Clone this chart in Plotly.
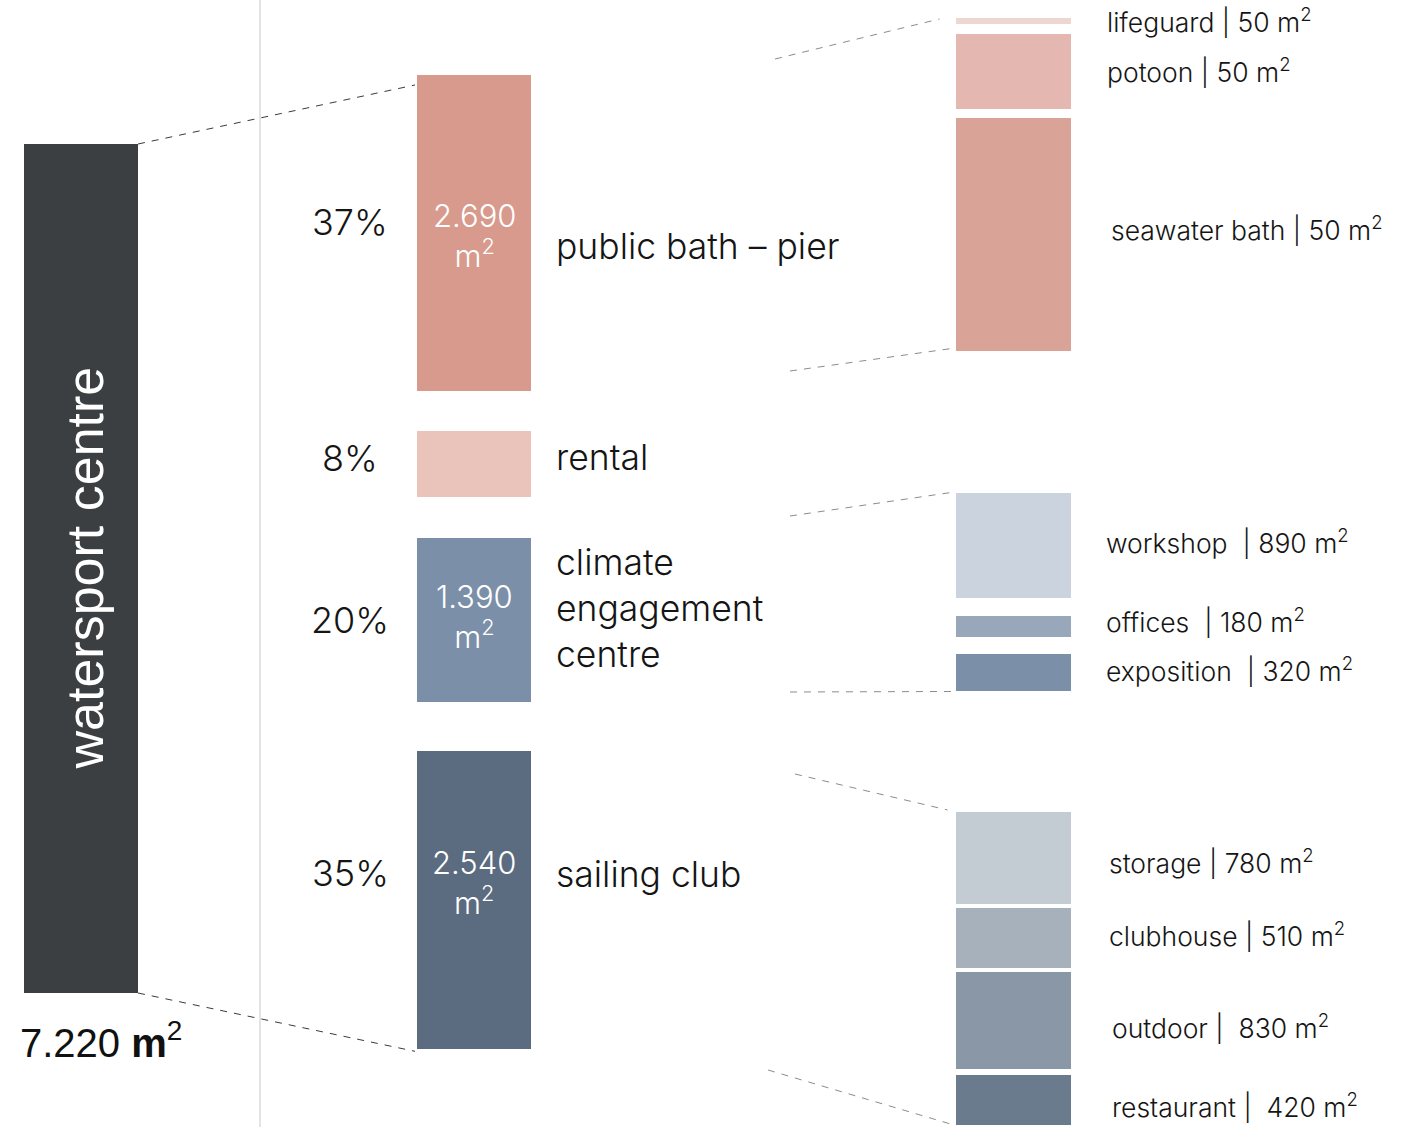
import plotly.graph_objects as go

# ---------------------------------------------------------------------------
# Data: floor areas (m²) of the watersport centre and its parts
# ---------------------------------------------------------------------------
total_name = "watersport centre"
total_area = 7220
total_text = "7.220 <b>m</b><sup>2</sup>"

group_names = ["public bath – pier", "rental", "climate<br>engagement<br>centre", "sailing club"]
group_areas = [2690, 560, 1390, 2540]
group_shares = ["37%", "8%", "20%", "35%"]
group_area_text = ["2.690", "", "1.390", "2.540"]

bath_parts = ["lifeguard", "potoon", "seawater bath"]
bath_areas = [50, 640, 1980]
bath_text = ["lifeguard | 50 m<sup>2</sup>", "potoon | 50 m<sup>2</sup>", "seawater bath | 50 m<sup>2</sup>"]

climate_parts = ["workshop", "offices", "exposition"]
climate_areas = [890, 180, 320]
climate_text = ["workshop \u00a0| 890 m<sup>2</sup>", "offices \u00a0| 180 m<sup>2</sup>",
                "exposition \u00a0| 320 m<sup>2</sup>"]

sailing_parts = ["storage", "clubhouse", "outdoor", "restaurant"]
sailing_areas = [780, 510, 830, 420]
sailing_text = ["storage | 780 m<sup>2</sup>", "clubhouse | 510 m<sup>2</sup>",
                "outdoor | \u00a0830 m<sup>2</sup>", "restaurant | \u00a0420 m<sup>2</sup>"]

# ---------------------------------------------------------------------------
# Styling
# ---------------------------------------------------------------------------
total_color = "#3b3f41"
group_colors = ["#d79a8d", "#eac4bb", "#7b8fa8", "#5b6b80"]
bath_colors = ["#efd7d1", "#e4b8b0", "#d9a397"]
climate_colors = ["#cbd4de", "#98a8ba", "#7b8fa8"]
sailing_colors = ["#c3cbd3", "#a6b1bb", "#8997a6", "#6b7b8e"]

W, H = 1422, 1127
PX_PER_M2 = 849 / 7220      # vertical scale: pixels per square metre
TOP_PX = 144                # where the total bar starts


def y_at(px):
    """Screen row (px) -> y value in m²."""
    return (px - TOP_PX) / PX_PER_M2


def dy(px):
    """Pixel distance -> m² distance."""
    return px / PX_PER_M2


def stack(values, start_px, gaps_px):
    bases, cur = [], y_at(start_px)
    for i, v in enumerate(values):
        bases.append(cur)
        cur += v
        if i < len(gaps_px):
            cur += dy(gaps_px[i])
    return bases


X_TOTAL, X_GROUP, X_DETAIL = 81, 474, 1013
BAR_W = 114
DETAIL_W = 115
TEXT = "#151515"
FONT = "Inter"
WEIGHT = 300

group_base = stack(group_areas, 75, [40, 41, 49])
bath_base = stack(bath_areas, 18, [10, 9])
climate_base = stack(climate_areas, 493, [18, 17])
sailing_base = stack(sailing_areas, 812, [4, 4, 6])

fig = go.Figure()

fig.add_trace(go.Bar(x=[X_TOTAL], y=[total_area], base=[0], width=[BAR_W],
                     marker=dict(color=total_color, line=dict(width=0)), hoverinfo="skip"))
fig.add_trace(go.Bar(x=[X_GROUP] * 4, y=group_areas, base=group_base, width=[BAR_W] * 4,
                     marker=dict(color=group_colors, line=dict(width=0)), hoverinfo="skip"))
for areas, bases, colors in [(bath_areas, bath_base, bath_colors),
                             (climate_areas, climate_base, climate_colors),
                             (sailing_areas, sailing_base, sailing_colors)]:
    n = len(areas)
    fig.add_trace(go.Bar(x=[X_DETAIL] * n, y=areas, base=bases, width=[DETAIL_W] * n,
                         marker=dict(color=colors, line=dict(width=0)), hoverinfo="skip"))


def dashed(x0, y0, x1, y1, color):
    fig.add_trace(go.Scatter(x=[x0, x1], y=[y0, y1], mode="lines",
                             line=dict(color=color, width=1, dash="7px,7px"), hoverinfo="skip"))


# connectors from the total to the groups
left_edge_total = X_TOTAL + BAR_W / 2
left_edge_group = X_GROUP - BAR_W / 2 - 2
dashed(left_edge_total, 0, left_edge_group, group_base[0] + dy(10), "#3a3a3a")
dashed(left_edge_total, total_area, left_edge_group, group_base[-1] + group_areas[-1] + dy(2), "#3a3a3a")

# connectors towards the detail columns
detail_left = X_DETAIL - DETAIL_W / 2
groups_detail = [(bath_base, bath_areas), (climate_base, climate_areas), (sailing_base, sailing_areas)]
starts = [((775, 59), (790, 371)), ((790, 516), (790, 692)), ((795, 774), (768, 1070))]
end_dx = [(-16, 0), (-1, -1), (-8, -6)]
end_dy = [(1, -3), (-1, 0), (-2, -1)]
for (bases, areas), (s_top, s_bot), (ex0, ex1), (ey0, ey1) in zip(groups_detail, starts, end_dx, end_dy):
    dashed(s_top[0], y_at(s_top[1]), detail_left + ex0, bases[0] + dy(ey0), "#8c8c8c")
    dashed(s_bot[0], y_at(s_bot[1]), detail_left + ex1, bases[-1] + areas[-1] + dy(ey1), "#8c8c8c")

ann = []

# total bar texts
ann.append(dict(x=X_TOTAL + 3, y=total_area / 2, text=total_name, textangle=-90,
                font=dict(family="Liberation Sans", size=52, color="#ffffff"),
                xanchor="center", yanchor="middle", showarrow=False))
ann.append(dict(x=18, y=total_area + dy(47), text=total_text,
                font=dict(family="Liberation Sans", size=40, color="#111111"),
                xanchor="left", yanchor="middle", showarrow=False))

# group texts
share_dy = [-11, -6, 0, -27]
value_dy = [2, 0, -3, -17]
name_dy = [13, -7, -11, -25]
for i in range(4):
    mid = group_base[i] + group_areas[i] / 2
    ann.append(dict(x=350, y=mid + dy(share_dy[i]), text=group_shares[i],
                    font=dict(family=FONT, size=36, color=TEXT, weight=WEIGHT),
                    xanchor="center", yanchor="middle", showarrow=False))
    if group_area_text[i]:
        ann.append(dict(x=X_GROUP, y=mid + dy(value_dy[i]),
                        text=group_area_text[i] + "<br>m<sup>2</sup>",
                        font=dict(family=FONT, size=31, color="#ffffff", weight=WEIGHT),
                        xanchor="center", yanchor="middle", showarrow=False))
    ann.append(dict(x=554, y=mid + dy(name_dy[i]), text=group_names[i], align="left",
                    font=dict(family=FONT, size=35.5, color=TEXT, weight=WEIGHT),
                    xanchor="left", yanchor="middle", showarrow=False))

# detail labels
detail_sets = [
    (bath_base, bath_areas, bath_text, [1105, 1105, 1109], [0, -1, -6]),
    (climate_base, climate_areas, climate_text, [1104, 1104, 1104], [-4, -6, -3]),
    (sailing_base, sailing_areas, sailing_text, [1107, 1107, 1110, 1110], [4, -3, 6, 6]),
]
for bases, areas, texts, xs, offs in detail_sets:
    for b, a, t, x, o in zip(bases, areas, texts, xs, offs):
        ann.append(dict(x=x, y=b + a / 2 + dy(o), text=t,
                        font=dict(family=FONT, size=26.5, color=TEXT, weight=WEIGHT),
                        xanchor="left", yanchor="middle", showarrow=False))

fig.update_layout(
    width=W, height=H,
    margin=dict(l=0, r=0, t=0, b=0),
    paper_bgcolor="#ffffff", plot_bgcolor="#ffffff",
    barmode="overlay", bargap=0, showlegend=False,
    xaxis=dict(range=[0, W], visible=False, fixedrange=True),
    yaxis=dict(range=[y_at(H), y_at(0)], visible=False, fixedrange=True),
    annotations=ann,
    shapes=[dict(type="line", xref="x", yref="paper", x0=260, x1=260, y0=0, y1=1,
                 line=dict(color="#c8c8c8", width=1))],
)

fig.write_html("out.html", config={"displayModeBar": False})
